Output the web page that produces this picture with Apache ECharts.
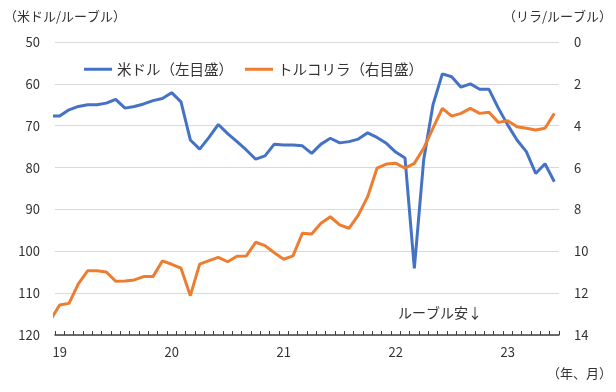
<!DOCTYPE html>
<html><head><meta charset="utf-8">
<script src="https://cdn.jsdelivr.net/npm/echarts@6/dist/echarts.min.js"></script>
<style>html,body{margin:0;padding:0;background:#fff}#c{width:616px;height:392px}</style>
</head><body><div id="c"></div>
<script>
// Monthly data: first entry = Dec 2018 (clipped at the plot edge), then Jan 2019 … Jun 2023
const yearLabels = ['19', '20', '21', '22', '23'];
const firstMonthIndex = -1;
const usdRub = [
  67.7,
  67.7, 66.2, 65.4, 65.0, 65.0, 64.6, 63.7, 65.8, 65.4, 64.8, 64.0, 63.5,
  62.1, 64.3, 73.4, 75.6, 72.8, 69.7, 71.9, 73.8, 75.8, 78.0, 77.2, 74.4,
  74.6, 74.6, 74.8, 76.6, 74.4, 73.0, 74.1, 73.8, 73.2, 71.7, 72.8, 74.2,
  76.3, 77.7, 104.1, 78.2, 65.0, 57.6, 58.3, 60.8, 60.0, 61.3, 61.3, 65.8,
  69.8, 73.4, 76.2, 81.4, 79.1, 83.4
];
const tryRub = [
  13.3,
  12.57, 12.49, 11.56, 10.93, 10.93, 10.99, 11.43, 11.42, 11.37, 11.21, 11.21, 10.46,
  10.62, 10.81, 12.12, 10.61, 10.45, 10.29, 10.50, 10.24, 10.22, 9.57, 9.73, 10.07,
  10.38, 10.22, 9.14, 9.17, 8.66, 8.35, 8.74, 8.90, 8.27, 7.39, 6.03, 5.83,
  5.79, 6.03, 5.80, 5.08, 4.12, 3.17, 3.54, 3.41, 3.17, 3.41, 3.36, 3.84,
  3.76, 4.05, 4.12, 4.20, 4.12, 3.41
];
const seriesNames = ['米ドル（左目盛）', 'トルコリラ（右目盛）'];
const leftName = '（米ドル/ルーブル）';
const rightName = '（リラ/ルーブル）';
const xName = '（年、月）';
const note = 'ルーブル安↓';

const monthCount = usdRub.length + firstMonthIndex;
const cats = [];
for (let i = 0; i < monthCount; i++) cats.push(i % 12 === 0 ? yearLabels[i / 12] : '');
const toPts = arr => arr.map((v, i) => [i + firstMonthIndex, v]);

const FONT = "'Noto Sans CJK JP', 'Noto Sans', sans-serif";
const TXT = '#333';
const AXIS = '#404040';
const chart = echarts.init(document.getElementById('c'), null, {renderer: 'canvas'});
chart.setOption({
  animation: false,
  textStyle: {fontFamily: FONT},
  grid: {left: 55, right: 57, top: 42, bottom: 57},
  legend: {
    left: 79, top: 57, itemWidth: 28, itemHeight: 3, itemGap: 12, icon: 'rect',
    textStyle: {fontSize: 14.5, color: TXT, fontFamily: FONT},
    data: seriesNames
  },
  xAxis: [{
    type: 'category', data: cats, boundaryGap: true, position: 'bottom', z: 50,
    axisLine: {show: true, onZero: false, lineStyle: {color: AXIS, width: 1.5}},
    axisTick: {show: true, interval: 0, inside: true, length: 4, lineStyle: {color: AXIS, width: 1}},
    axisLabel: {interval: 0, color: TXT, fontSize: 13, margin: 11, fontFamily: FONT},
    splitLine: {show: false}
  }, {
    type: 'value', min: -0.5, max: monthCount - 0.5, position: 'top',
    axisLine: {show: false}, axisTick: {show: false}, axisLabel: {show: false}, splitLine: {show: false}
  }],
  yAxis: [{
    type: 'value', inverse: true, min: 50, max: 120, interval: 10,
    axisLine: {show: false}, axisTick: {show: false},
    axisLabel: {color: TXT, fontSize: 13, margin: 15, fontFamily: FONT},
    splitLine: {show: true, lineStyle: {color: '#d9d9d9', width: 1}}
  }, {
    type: 'value', inverse: true, min: 0, max: 14, interval: 2, position: 'right',
    axisLine: {show: false}, axisTick: {show: false},
    axisLabel: {color: TXT, fontSize: 13, margin: 15, fontFamily: FONT},
    splitLine: {show: false}
  }],
  series: [{
    name: seriesNames[0], type: 'line', xAxisIndex: 1, yAxisIndex: 0,
    data: toPts(usdRub), symbol: 'none', clip: true,
    lineStyle: {color: '#4472C4', width: 3}, itemStyle: {color: '#4472C4'}
  }, {
    name: seriesNames[1], type: 'line', xAxisIndex: 1, yAxisIndex: 1,
    data: toPts(tryRub), symbol: 'none', clip: true,
    lineStyle: {color: '#ED7D31', width: 3}, itemStyle: {color: '#ED7D31'}
  }],
  graphic: [
    {type: 'text', left: 4, top: 10, style: {text: leftName, fontSize: 13, fill: TXT, fontFamily: FONT}},
    {type: 'text', right: 4, top: 10, style: {text: rightName, fontSize: 13, fill: TXT, fontFamily: FONT}},
    {type: 'text', right: 4, top: 367, style: {text: xName, fontSize: 13, fill: TXT, fontFamily: FONT}},
    {type: 'text', left: 398, top: 306, style: {text: note, fontSize: 14, fill: TXT, fontFamily: FONT}}
  ]
});
</script></body></html>
